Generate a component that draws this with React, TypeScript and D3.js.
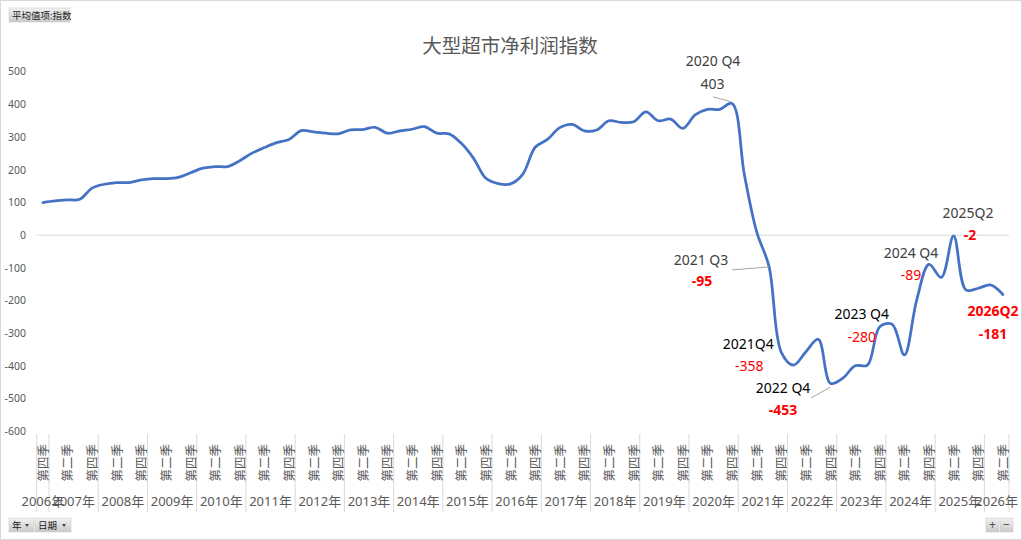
import React from 'react';
import * as d3 from 'd3';

// quarterly index, 2006 Q4 .. 2026 Q2
const years = [2006, 2007, 2008, 2009, 2010, 2011, 2012, 2013, 2014, 2015, 2016, 2017, 2018, 2019, 2020, 2021, 2022, 2023, 2024, 2025, 2026];
const quarterNames = ['第一季', '第二季', '第三季', '第四季'];
const firstYearQuarters = [4];
const lastYearQuarters = [1, 2];

const indexValues = [
  100, 105, 108, 110, 144, 156, 161, 161, 169, 173,
  173, 177, 191, 205, 210, 210, 228, 251, 268, 283,
  293, 320, 316, 312, 310, 322, 323, 330, 312, 319,
  324, 332, 312, 310, 281, 235, 174, 158, 157, 187,
  269, 293, 329, 339, 319, 322, 350, 345, 347, 377,
  350, 355, 327, 368, 385, 385, 403, 185, 10, -95,
  -358, -397, -356, -318, -453, -437, -399, -397, -280, -272,
  -366, -198, -89, -129, -2, -167, -162, -152, -181,
];

const yTicks = [500, 400, 300, 200, 100, 0, -100, -200, -300, -400, -500, -600];

// callouts: period key, caption, value text
const callouts = [
  { key: '2020-4', title: '2020 Q4', value: '403' },
  { key: '2021-3', title: '2021 Q3', value: '-95' },
  { key: '2021-4', title: '2021Q4', value: '-358' },
  { key: '2022-4', title: '2022 Q4', value: '-453' },
  { key: '2023-4', title: '2023 Q4', value: '-280' },
  { key: '2024-4', title: '2024 Q4', value: '-89' },
  { key: '2025-2', title: '2025Q2', value: '-2' },
  { key: '2026-2', title: '2026Q2', value: '-181' },
];

const RED = '#ff0000';
const calloutStyle: Record<string, any> = {
  '2020-4': { t: [-19, -37.5], v: [-19.5, -14.5], tc: '#404040', tw: 400, vc: '#404040', vw: 400, lead: [-19, -6.5, -2, -2] },
  '2021-3': { t: [-68, -1.4], v: [-67, 19.6], tc: '#404040', tw: 400, vc: RED, vw: 700, lead: [-37, 3.6, 0, 0.6] },
  '2021-4': { t: [-33, -3.4], v: [-32, 18.6], tc: '#000', tw: 400, vc: RED, vw: 400 },
  '2022-4': { t: [-47.5, 9.6], v: [-47.5, 31.6], tc: '#000', tw: 400, vc: RED, vw: 700, lead: [-19.5, 14.6, 0, 3.6] },
  '2023-4': { t: [-18, -8], v: [-18, 15], tc: '#000', tw: 400, vc: RED, vw: 400 },
  '2024-4': { t: [-18, -6.4], v: [-18, 15.6], tc: '#404040', tw: 400, vc: RED, vw: 400 },
  '2025-2': { t: [14.4, -18], v: [16.4, 4], tc: '#404040', tw: 400, vc: RED, vw: 700 },
  '2026-2': { t: [-9.8, 21.5], v: [-9.8, 44.5], tc: RED, tw: 700, vc: RED, vw: 700 },
};

const W = 1022;
const H = 540;
const FONT = '"Noto Sans", "Noto Sans CJK SC", sans-serif';
const AXIS_GREY = '#595959';

type Period = { key: string; year: number; q: number };

const periods: Period[] = [];
years.forEach((y, yi) => {
  const qs = yi === 0 ? firstYearQuarters : yi === years.length - 1 ? lastYearQuarters : [1, 2, 3, 4];
  qs.forEach(q => periods.push({ key: `${y}-${q}`, year: y, q }));
});

const Button = ({ x, y, w, label, arrow }: { x: number; y: number; w: number; label: string; arrow?: boolean }) => (
  <g transform={`translate(${x},${y})`}>
    <rect width={w} height={14} fill="url(#btnGrad)" stroke="#c8c8c8" strokeWidth={0.5} />
    <text x={3} y={10.5} fontSize={9.5} fill="#222" fontFamily={FONT}>{label}</text>
    {arrow && <path d={`M${w - 9},6 l4,0 l-2,3 z`} fill="#444" />}
  </g>
);

export default function App() {
  const x = d3.scaleBand<string>()
    .domain(periods.map(p => p.key))
    .range([36.7, 1009])
    .paddingInner(0)
    .paddingOuter(0);

  const y = d3.scaleLinear().domain([-600, 500]).range([431.5, 71.7]);

  const cx = (key: string) => (x(key) as number) + x.bandwidth() / 2;

  const line = d3.line<number>()
    .x((_d, i) => cx(periods[i].key))
    .y(d => y(d))
    .curve(d3.curveCatmullRom.alpha(0.5));

  const yearGroups = d3.groups(periods, p => p.year);
  const boundaries = [x(periods[0].key) as number, ...yearGroups.map(([, ps]) => (x(ps[ps.length - 1].key) as number) + x.bandwidth())];

  return (
    <div style={{ position: 'absolute', left: 0, top: 0 }}>
      <svg width={W} height={H} style={{ display: 'block' }}>
        <defs>
          <linearGradient id="btnGrad" x1="0" y1="0" x2="0" y2="1">
            <stop offset="0" stopColor="#f2f2f2" />
            <stop offset="1" stopColor="#c9c9c9" />
          </linearGradient>
        </defs>
        <rect x={0.5} y={0.5} width={W - 1} height={H - 1} fill="#fff" stroke="#d9d9d9" />

        <text x={510} y={53} textAnchor="middle" fontSize={19.5} fill={AXIS_GREY} fontFamily={FONT}>大型超市净利润指数</text>

        {/* y axis labels */}
        {yTicks.map(t => (
          <text key={t} x={26} y={y(t)} dy="0.35em" textAnchor="end" fontSize={10.5} fill={AXIS_GREY} fontFamily={FONT}>{t}</text>
        ))}

        {/* zero line */}
        <line x1={36.7} x2={1009} y1={y(0)} y2={y(0)} stroke="#d9d9d9" strokeWidth={1} />

        {/* category axis */}
        {boundaries.map((b, i) => (
          <line key={i} x1={b} x2={b} y1={434} y2={512} stroke="#d9d9d9" strokeWidth={1} />
        ))}
        {periods.map(p => (p.q % 2 === 0 ? (
          <text key={p.key} transform={`translate(${cx(p.key) + 0.5},444) rotate(-90)`} textAnchor="end" dominantBaseline="central"
            fontSize={12.5} fill={AXIS_GREY} fontFamily={FONT}>{quarterNames[p.q - 1]}</text>
        ) : null))}
        {yearGroups.map(([yr, ps]) => {
          const x0 = x(ps[0].key) as number;
          const x1 = (x(ps[ps.length - 1].key) as number) + x.bandwidth();
          return (
            <text key={yr} x={(x0 + x1) / 2} y={506} textAnchor="middle" fontSize={13} fill={AXIS_GREY} fontFamily={FONT}>{`${yr}年`}</text>
          );
        })}

        {/* series */}
        <path d={line(indexValues) || ''} fill="none" stroke="#4472C4" strokeWidth={2.75} strokeLinejoin="round" strokeLinecap="round" />

        {/* callouts */}
        {callouts.map(c => {
          const i = periods.findIndex(p => p.key === c.key);
          const px = cx(c.key);
          const py = y(indexValues[i]);
          const s = calloutStyle[c.key];
          return (
            <g key={c.key} fontFamily={FONT} fontSize={14} textAnchor="middle">
              {s.lead && (
                <line x1={px + s.lead[0]} y1={py + s.lead[1]} x2={px + s.lead[2]} y2={py + s.lead[3]} stroke="#a6a6a6" strokeWidth={1} />
              )}
              <text x={px + s.t[0]} y={py + s.t[1]} fill={s.tc} fontWeight={s.tw}>{c.title}</text>
              <text x={px + s.v[0]} y={py + s.v[1]} fill={s.vc} fontWeight={s.vw}>{c.value}</text>
            </g>
          );
        })}

        {/* pivot field buttons */}
        <Button x={9} y={8} w={61} label="平均值项:指数" />
        <Button x={9} y={518} w={25} label="年" arrow />
        <Button x={35} y={518} w={36} label="日期" arrow />
        <g>
          <rect x={986} y={518} width={13} height={14} fill="url(#btnGrad)" stroke="#c8c8c8" strokeWidth={0.5} />
          <text x={992.5} y={529} textAnchor="middle" fontSize={12} fill="#555" fontFamily={FONT}>+</text>
          <rect x={1000} y={518} width={13} height={14} fill="url(#btnGrad)" stroke="#c8c8c8" strokeWidth={0.5} />
          <text x={1006.5} y={529} textAnchor="middle" fontSize={12} fill="#555" fontFamily={FONT}>−</text>
        </g>
      </svg>
    </div>
  );
}
